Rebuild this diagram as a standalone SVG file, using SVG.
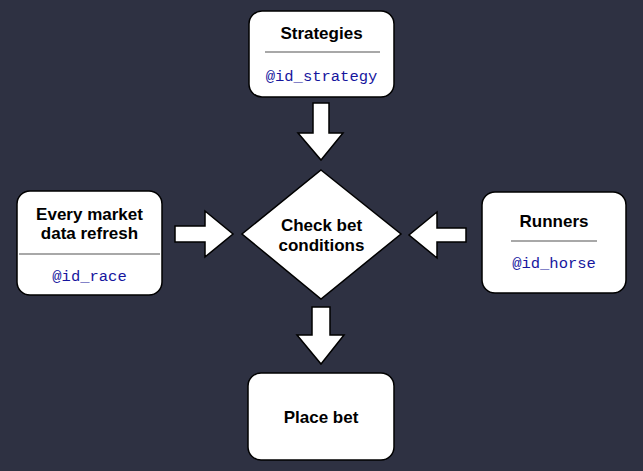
<svg xmlns="http://www.w3.org/2000/svg" width="643" height="471" viewBox="0 0 643 471">
<style>
.box{fill:#fff;stroke:#000;stroke-width:1.5}
.arrow{fill:#fff;stroke:#000;stroke-width:1.5;stroke-linejoin:miter}
.title{font-family:"Liberation Sans",Arial,sans-serif;font-weight:bold;font-size:17px;fill:#000;text-anchor:middle}
.code{font-family:"Liberation Mono","Courier New",monospace;font-size:15.5px;fill:#16169e;text-anchor:middle}
.sep{stroke:#a8a8a8;stroke-width:2}
</style>
<rect width="643" height="471" fill="#2e3142"/>
<g id="connectors">
<polygon class="arrow" points="313,103 329,103 329,133 343,133 321,160 298,133 313,133"/>
<polygon class="arrow" points="175,226 205,226 205,211 233,234 205,257 205,242 175,242"/>
<polygon class="arrow" points="466,228 437,228 437,212 409,235 437,258 437,242 466,242"/>
<polygon class="arrow" points="312,307 330,307 330,335 344,335 321,364 297,335 312,335"/>
</g>
<g id="strategies">
<rect class="box" x="249" y="11" width="145" height="86" rx="13"/>
<text class="title" x="321.5" y="39">Strategies</text>
<line class="sep" x1="265" y1="52" x2="380" y2="52"/>
<text class="code" x="321.5" y="81">@id_strategy</text>
</g>
<g id="market">
<rect class="box" x="17" y="191" width="145" height="104" rx="13"/>
<text class="title" x="89.5" y="220">Every market</text>
<text class="title" x="89.5" y="239">data refresh</text>
<line class="sep" x1="19" y1="254" x2="160" y2="254"/>
<text class="code" x="89.5" y="281">@id_race</text>
</g>
<g id="runners">
<rect class="box" x="482" y="192" width="144" height="101" rx="13"/>
<text class="title" x="554" y="227">Runners</text>
<line class="sep" x1="511" y1="241" x2="597" y2="241"/>
<text class="code" x="554" y="268">@id_horse</text>
</g>
<g id="check">
<polygon class="box" points="321,170 401,234 321,299 242,234"/>
<text class="title" x="321.5" y="231">Check bet</text>
<text class="title" x="321.5" y="251">conditions</text>
</g>
<g id="place">
<rect class="box" x="248" y="373" width="146" height="87" rx="13"/>
<text class="title" x="321" y="423">Place bet</text>
</g>
</svg>
